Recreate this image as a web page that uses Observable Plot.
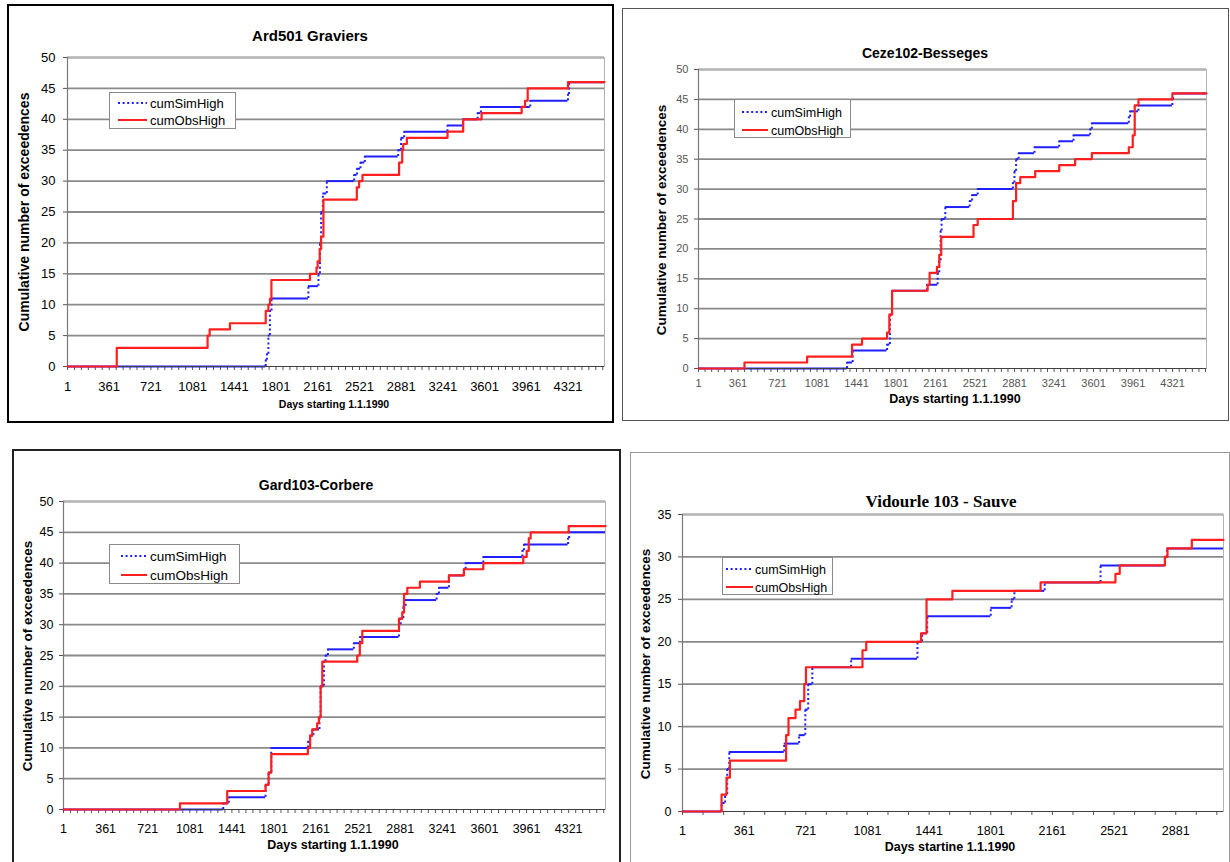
<!DOCTYPE html>
<html><head><meta charset="utf-8">
<script src="https://cdn.jsdelivr.net/npm/d3@7"></script>
<script src="https://cdn.jsdelivr.net/npm/@observablehq/plot@0.6"></script>
<style>
body{margin:0;background:#fff;}
#page{position:relative;width:1230px;height:862px;overflow:hidden;font-family:"Liberation Sans",Arial,sans-serif;background:#fff;}
.frame{position:absolute;box-sizing:border-box;}
.txt{position:absolute;transform:translate(-50%,-50%);white-space:nowrap;font-weight:bold;color:#000;line-height:1;}
.ytitle{position:absolute;transform:translate(-50%,-50%) rotate(-90deg);white-space:nowrap;font-weight:bold;color:#000;line-height:1;}
.legend{position:absolute;box-sizing:border-box;background:#fff;border:1.5px solid #8a8a8a;}
.plot{position:absolute;}
</style></head><body><div id="page"></div>
<script>
// ---------- data ----------
const seriesNames = ["cumSimHigh", "cumObsHigh"];
const panelTitles = ["Ard501 Graviers", "Ceze102-Besseges", "Gard103-Corbere", "Vidourle 103 - Sauve"];
const yAxisTitle = "Cumulative number of exceedences";
const xAxisTitles = ["Days starting 1.1.1990", "Days starting 1.1.1990", "Days starting 1.1.1990", "Days startine 1.1.1990"];
const xTickLabelsLong = [1, 361, 721, 1081, 1441, 1801, 2161, 2521, 2881, 3241, 3601, 3961, 4321];
const xTickLabelsShort = [1, 361, 721, 1081, 1441, 1801, 2161, 2521, 2881];
const yTicks50 = [0, 5, 10, 15, 20, 25, 30, 35, 40, 45, 50];
const yTicks35 = [0, 5, 10, 15, 20, 25, 30, 35];

// [day, cumulative count] at each change
const ardObs = [[1,0],[426,3],[1210,5],[1228,6],[1403,7],[1712,9],[1735,10],[1749,11],[1761,14],[2094,15],[2150,16],[2160,17],[2178,19],[2190,21],[2210,27],[2498,29],[2518,30],[2547,31],[2863,33],[2890,35],[2899,36],[2930,37],[3281,38],[3416,40],[3575,41],[3921,42],[3950,43],[3973,45],[4321,46]];
const ardSim = [[1,0],[1712,1],[1722,2],[1735,5],[1748,9],[1762,11],[2080,13],[2167,15],[2180,20],[2190,25],[2205,28],[2239,30],[2475,31],[2500,32],[2530,33],[2567,34],[2855,35],[2880,37],[2907,38],[3281,39],[3416,40],[3541,41],[3569,42],[3995,43],[4321,44],[4330,46]];

const cezeObs = [[1,0],[420,1],[991,2],[1400,4],[1491,5],[1719,6],[1740,9],[1765,13],[2089,14],[2107,16],[2174,17],[2195,19],[2213,22],[2507,24],[2545,25],[2866,28],[2895,31],[2933,32],[3069,33],[3288,34],[3433,35],[3585,36],[3922,37],[3958,39],[3976,44],[4010,45],[4319,46]];
const cezeSim = [[1,0],[1355,1],[1406,3],[1719,4],[1745,9],[1765,13],[2083,14],[2180,16],[2195,18],[2207,23],[2216,25],[2250,27],[2472,28],[2494,29],[2545,30],[2866,31],[2880,33],[2895,35],[2918,36],[3063,37],[3288,38],[3418,39],[3570,40],[3585,41],[3922,42],[3934,43],[4010,44],[4319,45],[4325,46]];

const gardObs = [[1,0],[997,1],[1401,3],[1729,4],[1755,6],[1778,9],[2091,10],[2110,12],[2128,13],[2170,14],[2185,15],[2200,20],[2214,24],[2513,25],[2535,27],[2556,29],[2870,31],[2898,32],[2913,35],[2941,36],[3049,37],[3297,38],[3425,39],[3591,40],[3933,41],[3962,42],[3980,44],[3996,45],[4321,46]];
const gardSim = [[1,0],[1367,1],[1415,2],[1729,4],[1755,6],[1778,10],[2091,11],[2110,12],[2138,13],[2190,15],[2200,20],[2228,24],[2242,25],[2262,26],[2484,27],[2536,28],[2870,30],[2884,31],[2907,33],[2927,34],[3192,35],[3212,36],[3297,38],[3425,39],[3440,40],[3591,41],[3925,42],[3939,43],[4316,44],[4325,45]];

const vidObs = [[1,0],[229,2],[258,4],[278,6],[606,9],[620,11],[661,12],[687,13],[712,15],[722,17],[1052,19],[1074,20],[1394,21],[1426,25],[1577,26],[2092,27],[2529,28],[2554,29],[2818,30],[2833,31],[2975,32]];
const vidSim = [[1,0],[229,1],[250,2],[262,5],[274,7],[595,8],[682,9],[718,12],[735,15],[759,17],[986,18],[1373,20],[1400,21],[1430,23],[1801,24],[1923,25],[1939,26],[2116,27],[2442,29],[2818,30],[2830,31]];

// ---------- layout ----------
const RED = "#ff1f1f", BLUE = "#1f1fff";
const FONT = "'Liberation Sans', Arial, sans-serif";
const page = document.getElementById("page");

const panels = [
  {obs: ardObs, sim: ardSim, xEnd: 4636, yMax: 50, yTicks: yTicks50, xLabels: xTickLabelsLong, minorStep: 60,
   frame: {l:7, t:4, w:607, h:419, border:"2px solid #000"},
   svg: {l:8, t:5, w:605, h:417, ml:59, mr:9, mt:52, mb:56},
   tickFont: 13, tickColor: "#000", xPad: 11, yPad: 8,
   title: {x:310, y:35, size:15, font: FONT},
   ytitle: {x:24, y:212, size:14}, xtitle: {x:334, y:404, size:10.5},
   legend: {l:109, t:92, w:127, h:37, r1:10, r2:27, lx1:8, lx2:37, tx:40, size:13}},
  {obs: cezeObs, sim: cezeSim, xEnd: 4630, yMax: 50, yTicks: yTicks50, xLabels: xTickLabelsLong, minorStep: 60,
   frame: {l:622, t:8, w:607, h:413, border:"1.5px solid #555"},
   svg: {l:622, t:8, w:606, h:412, ml:76, mr:22, mt:61, mb:52},
   tickFont: 11, tickColor: "#555", xPad: 7, yPad: 6,
   title: {x:925, y:53, size:14, font: FONT},
   ytitle: {x:662, y:220, size:13.5}, xtitle: {x:955, y:399, size:12.5},
   legend: {l:734, t:99, w:117, h:39, r1:12, r2:30, lx1:7, lx2:33, tx:36, size:12.5}},
  {obs: gardObs, sim: gardSim, xEnd: 4636, yMax: 50, yTicks: yTicks50, xLabels: xTickLabelsLong, minorStep: 60,
   frame: {l:12, t:449, w:609, h:420, border:"2px solid #222"},
   svg: {l:12, t:450, w:608, h:412, ml:51, mr:15, mt:51, mb:53},
   tickFont: 12.5, tickColor: "#000", xPad: 11, yPad: 6,
   title: {x:316, y:485, size:14, font: FONT},
   ytitle: {x:28, y:656, size:13.5}, xtitle: {x:333, y:845, size:12.5},
   legend: {l:109, t:544, w:131, h:40, r1:11, r2:30, lx1:11, lx2:37, tx:40, size:13.5}},
  {obs: vidObs, sim: vidSim, xEnd: 3160, yMax: 35, yTicks: yTicks35, xLabels: xTickLabelsShort, minorStep: 120,
   frame: {l:630, t:452, w:600, h:415, border:"1px solid #9a9a9a"},
   svg: {l:631, t:452, w:598, h:410, ml:51, mr:6, mt:62, mb:51},
   tickFont: 12.5, tickColor: "#000", xPad: 11, yPad: 7,
   title: {x:941, y:501, size:17, font: "'Liberation Serif', 'Times New Roman', serif"},
   ytitle: {x:646, y:664, size:13.5}, xtitle: {x:950, y:847, size:12.5},
   legend: {l:722, t:557, w:111, h:38, r1:11, r2:29, lx1:3, lx2:30, tx:32, size:12.5}}
];

function el(tag, cls, css, text) {
  const e = document.createElement(tag);
  if (cls) e.className = cls;
  Object.assign(e.style, css);
  if (text != null) e.textContent = text;
  page.appendChild(e);
  return e;
}

function stepParts(pts, xEnd) {
  const h = [], v = [];
  pts.forEach((p, i) => {
    const x2 = i < pts.length - 1 ? pts[i + 1][0] : xEnd;
    h.push({x1: p[0], x2, y: p[1]});
    if (i > 0) v.push({x: p[0], y1: pts[i - 1][1], y2: p[1]});
  });
  return {h, v};
}

panels.forEach((P, idx) => {
  el("div", "frame", {left: P.frame.l + "px", top: P.frame.t + "px", width: P.frame.w + "px", height: P.frame.h + "px", border: P.frame.border});

  const obsLine = P.obs.concat([[P.xEnd, P.obs[P.obs.length - 1][1]]]);
  const sim = stepParts(P.sim, P.xEnd);
  const labelSet = new Set(P.xLabels);
  const minor = d3.range(1, P.xEnd, P.minorStep);

  const chart = Plot.plot({
    width: P.svg.w, height: P.svg.h,
    marginLeft: P.svg.ml, marginRight: P.svg.mr, marginTop: P.svg.mt, marginBottom: P.svg.mb,
    x: {domain: [1, P.xEnd]},
    y: {domain: [0, P.yMax]},
    style: {background: "transparent", fontFamily: FONT, color: "#000", overflow: "visible"},
    marks: [
      Plot.gridY(P.yTicks.filter(t => t > 0), {stroke: "#8a8a8a", strokeOpacity: 1, strokeWidth: 1.8}),
      Plot.frame({stroke: "#b4b4b4", strokeWidth: 1}),
      Plot.ruleX([1], {stroke: "#7a7a7a", strokeWidth: 1.2}),
      Plot.axisY({ticks: P.yTicks, tickSize: 4, tickPadding: P.yPad, label: null, fontSize: P.tickFont, fill: P.tickColor, stroke: "#555"}),
      Plot.axisX({ticks: minor, tickSize: 4, tickPadding: P.xPad, label: null, fontSize: P.tickFont, fill: P.tickColor, stroke: "#555",
                  tickFormat: d => labelSet.has(d) ? String(d) : ""}),
      Plot.ruleY(sim.h, {x1: "x1", x2: "x2", y: "y", stroke: BLUE, strokeWidth: 2}),
      Plot.ruleX(sim.v, {x: "x", y1: "y1", y2: "y2", stroke: BLUE, strokeWidth: 2, strokeDasharray: "2,2.6"}),
      Plot.ruleY([0], {stroke: "#404040", strokeWidth: 1.2}),
      Plot.line(obsLine, {x: d => d[0], y: d => d[1], curve: "step-after", stroke: RED, strokeWidth: 2.2})
    ]
  });
  chart.classList.add("plot");
  chart.style.left = P.svg.l + "px";
  chart.style.top = P.svg.t + "px";
  page.appendChild(chart);

  el("div", "txt", {left: P.title.x + "px", top: P.title.y + "px", fontSize: P.title.size + "px", fontFamily: P.title.font}, panelTitles[idx]);
  el("div", "ytitle", {left: P.ytitle.x + "px", top: P.ytitle.y + "px", fontSize: P.ytitle.size + "px"}, yAxisTitle);
  el("div", "txt", {left: P.xtitle.x + "px", top: P.xtitle.y + "px", fontSize: P.xtitle.size + "px"}, xAxisTitles[idx]);

  const L = P.legend;
  const lg = el("div", "legend", {left: L.l + "px", top: L.t + "px", width: L.w + "px", height: L.h + "px"});
  const ns = "http://www.w3.org/2000/svg";
  const s = document.createElementNS(ns, "svg");
  s.setAttribute("width", L.w - 3); s.setAttribute("height", L.h - 3);
  s.style.position = "absolute"; s.style.left = "0px"; s.style.top = "0px"; s.style.overflow = "visible";
  [[L.r1, BLUE, "2,2.6", seriesNames[0]], [L.r2, RED, null, seriesNames[1]]].forEach(([ry, col, dash, name]) => {
    const ln = document.createElementNS(ns, "line");
    ln.setAttribute("x1", L.lx1); ln.setAttribute("x2", L.lx2);
    ln.setAttribute("y1", ry); ln.setAttribute("y2", ry);
    ln.setAttribute("stroke", col); ln.setAttribute("stroke-width", 2);
    if (dash) ln.setAttribute("stroke-dasharray", dash);
    s.appendChild(ln);
    const tx = document.createElementNS(ns, "text");
    tx.setAttribute("x", L.tx); tx.setAttribute("y", ry);
    tx.setAttribute("dy", "0.36em");
    tx.setAttribute("font-size", L.size);
    tx.setAttribute("font-family", FONT);
    tx.setAttribute("fill", "#000");
    tx.textContent = name;
    s.appendChild(tx);
  });
  lg.appendChild(s);
});
</script>
</body></html>
